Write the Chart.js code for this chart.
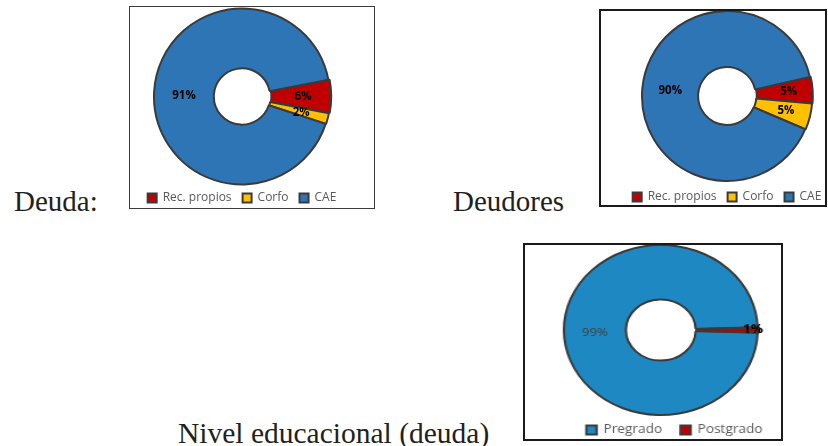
<!DOCTYPE html>
<html><head><meta charset="utf-8">
<script src="https://cdn.jsdelivr.net/npm/chart.js@4.4.1/dist/chart.umd.min.js"></script>
<style>
html,body{margin:0;padding:0;background:#fff;width:828px;height:446px;overflow:hidden;position:relative}
.t{position:absolute;font-family:"Liberation Serif","Times New Roman",serif;font-size:29px;line-height:29px;color:#231f20;white-space:nowrap}
.box{position:absolute;box-sizing:border-box;pointer-events:none}
.wrap{position:absolute}
</style></head><body>
<div class="t" style="left:14px;top:187px">Deuda:</div>
<div class="t" style="left:453px;top:187px">Deudores</div>
<div class="t" style="left:178px;top:419px;font-size:29.5px">Nivel educacional (deuda)</div>

<div class="wrap" style="left:107px;top:7px;width:270px;height:207px"><canvas id="c1" width="270" height="207"></canvas></div>
<div class="wrap" style="left:592px;top:11px;width:270px;height:202px"><canvas id="c2" width="270" height="202"></canvas></div>
<div class="wrap" style="left:524px;top:245px;width:240px;height:201px;transform:scaleX(1.14);transform-origin:0 0"><canvas id="c3" width="240" height="201"></canvas></div>

<div class="box" style="left:129px;top:6px;width:246px;height:203px;border:1px solid #3c3c3c"></div>
<div class="box" style="left:599px;top:9px;width:228px;height:198px;border:2px solid #1a1a1a"></div>
<div class="box" style="left:523px;top:243px;width:260px;height:198px;border:2px solid #1a1a1a"></div>

<script>
// ---- data ----
const deudaLabels = ['Rec. propios', 'Corfo', 'CAE'];
const deudaValues = [6, 2, 91];
const deudoresLabels = ['Rec. propios', 'Corfo', 'CAE'];
const deudoresValues = [5, 5, 90];
const nivelLabels = ['Pregrado', 'Postgrado'];
const nivelValues = [99, 1];

const RED = '#C00000', YELLOW = '#FFC000', BLUE = '#2E75B6', BLUE3 = '#1E88C2', EDGE = '#3a3a3a';

const pctLabels = {
  id: 'pctLabels',
  afterDatasetsDraw(chart, args, opts) {
    const ctx = chart.ctx;
    const meta = chart.getDatasetMeta(0);
    const vals = chart.data.datasets[0].data;
    meta.data.forEach((arc, i) => {
      const st = opts.styles[i];
      const p = arc.getProps(['startAngle', 'endAngle', 'innerRadius', 'outerRadius', 'x', 'y'], true);
      const a = (p.startAngle + p.endAngle) / 2;
      const off = (arc.options && arc.options.offset) || 0;
      const r = p.innerRadius + (p.outerRadius - p.innerRadius) * st.pos + off;
      ctx.save();
      ctx.font = st.font;
      ctx.fillStyle = st.color;
      ctx.textAlign = 'center';
      ctx.textBaseline = 'middle';
      ctx.fillText(vals[i] + '%', p.x + Math.cos(a) * r + (st.dx || 0), p.y + Math.sin(a) * r + (st.dy || 0));
      ctx.restore();
    });
  }
};

const legendShift = {
  id: 'legendShift',
  afterLayout(chart, args, opts) {
    const l = chart.legend;
    if (l && opts.dx) { l.left += opts.dx; l.right += opts.dx; }
  }
};

function makeChart(id, labels, values, colors, o) {
  return new Chart(document.getElementById(id), {
    type: 'doughnut',
    data: { labels, datasets: [{ data: values, backgroundColor: colors, borderColor: EDGE, borderWidth: 2, offset: o.offset }] },
    options: {
      responsive: false, animation: false, devicePixelRatio: 1,
      rotation: o.rotation, radius: o.radius, cutout: o.cutout,
      layout: { padding: o.padding },
      plugins: {
        tooltip: { enabled: false },
        legend: { position: 'bottom', labels: { boxWidth: 9, boxHeight: 9, padding: o.legendPad, color: '#595959', font: { family: '"Open Sans", sans-serif', size: 12 } } },
        pctLabels: { styles: o.styles },
        legendShift: { dx: o.legendDx || 0 }
      }
    },
    plugins: [pctLabels, legendShift]
  });
}

const B = 'bold 11.5px "Open Sans", sans-serif';
makeChart('c1', deudaLabels, deudaValues, [RED, YELLOW, BLUE], {
  offset: [3, 1, 0], rotation: 79, radius: 88, cutout: '32%', legendPad: 11,
  padding: { top: 5, bottom: 0, left: 0, right: 0 },
  styles: [
    { pos: 0.5, font: B, color: '#000' },
    { pos: 0.5, font: B, color: '#000', dx: 2, dy: 1 },
    { pos: 0.5, font: B, color: '#000', dy: 3 }
  ]
});
makeChart('c2', deudoresLabels, deudoresValues, [RED, YELLOW, BLUE], {
  offset: [2, 1, 0], rotation: 77, radius: 85, cutout: '34%', legendPad: 11,
  padding: { top: 1, bottom: 0, left: 0, right: 0 },
  styles: [
    { pos: 0.55, font: B, color: '#000' },
    { pos: 0.55, font: B, color: '#000' },
    { pos: 0.5, font: B, color: '#000' }
  ]
});
makeChart('c3', nivelLabels, nivelValues, [BLUE3, RED], {
  offset: [0, 3], rotation: 91.8, radius: 85, cutout: '36%', legendPad: 16,
  padding: { top: 7, bottom: 0, left: 0, right: 0 }, legendDx: 12,
  styles: [
    { pos: 0.5, font: '11.5px "Open Sans", sans-serif', color: '#404040', dy: 3 },
    { pos: 0.87, font: 'bold 12px "Open Sans", sans-serif', color: '#000' }
  ]
});
</script>
</body></html>
